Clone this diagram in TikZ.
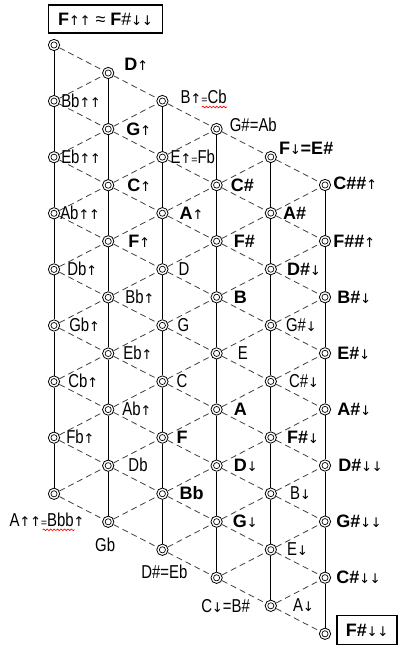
\documentclass[tikz,border=0pt]{standalone}
\usepackage{fontspec}
\setmainfont{Liberation Sans}
\newfontfamily\narrowfont[FakeStretch=0.8]{Liberation Sans}
\newfontfamily\arrowfont{DejaVu Sans}
\usetikzlibrary{calc,decorations.pathmorphing}
\newcommand{\nrw}{\narrowfont\fontsize{14}{16}\selectfont}
\newcommand{\upa}{\hbox to 8pt{\hss\arrowfont\mdseries\fontsize{10}{12}\selectfont ↑\hss}}
\newcommand{\dna}{\hbox to 8pt{\hss\arrowfont\mdseries\fontsize{10}{12}\selectfont ↓\hss}}
\newcommand{\smeq}{{\normalfont\fontsize{8}{10}\selectfont =}}

\begin{document}
\begin{tikzpicture}[x=0.75pt,y=-0.75pt,
    pitch/.style={circle,draw,fill=white,line width=0.6pt,minimum size=8.5pt,inner sep=0pt,
      path picture={\draw[line width=0.5pt] (path picture bounding box.center) circle (2.3pt);
        \fill (path picture bounding box.center) circle (0.6pt);}},
    stem/.style={line width=0.75pt},
    link/.style={line width=0.6pt,black!75,dash pattern=on 4.5pt off 3pt},
    lbl/.style={anchor=base west,inner sep=0pt,font=\fontsize{13.5}{15}\selectfont},
    box/.style={draw,line width=0.8pt,inner sep=0pt,font=\fontsize{13.5}{15}\selectfont},
    squiggle/.style={red,line width=0.5pt,decorate,decoration={snake,amplitude=0.6pt,segment length=2.6pt}}]
    \pgfmathsetmacro{\xzero}{54}
    \pgfmathsetmacro{\colstep}{54.2}
    \pgfmathsetmacro{\yzero}{45}
    \pgfmathsetmacro{\colshift}{28}
    \pgfmathsetmacro{\rowstep}{56.1}
    \useasboundingbox (0,0) rectangle (408,649);
    % lattice points
    \foreach \col in {0,...,5}
      \foreach \row in {0,...,8}
        \node[pitch] (n-\col-\row) at ({\xzero+\colstep*\col},{\yzero+\colshift*\col+\rowstep*\row}) {};
    \foreach \col in {0,...,5}
      \foreach \row in {1,...,8} {
        \pgfmathtruncatemacro{\prow}{\row-1}
        \draw[stem] (n-\col-\prow) -- (n-\col-\row);
      }
    \foreach \col in {0,...,4}
      \foreach \row in {0,...,8} {
        \pgfmathtruncatemacro{\ncol}{\col+1}
        \draw[link] (n-\col-\row) -- (n-\ncol-\row);
        \ifnum\row>0
          \pgfmathtruncatemacro{\prow}{\row-1}
          \draw[link] (n-\col-\row) -- (n-\ncol-\prow);
        \fi
      }
    % note names
    \foreach \col/\row/\dx/\dy/\txt in {
      0/1/7/0/{\nrw Bb\upa\upa}, 0/2/7/0/{\nrw Eb\upa\upa}, 0/3/6/0/{\nrw Ab\upa\upa},
      0/4/13/0/{\nrw Db\upa}, 0/5/15/0/{\nrw Gb\upa}, 0/6/14/0/{\nrw Cb\upa}, 0/7/12/0/{\nrw Fb\upa},
      1/0/16/-8/{\bfseries D\upa}, 1/1/18/0/{\bfseries G\upa}, 1/2/19/0/{\bfseries C\upa},
      1/3/20/0/{\bfseries F\upa}, 1/4/17/0/{\nrw Bb\upa}, 1/5/15/0/{\nrw Eb\upa},
      1/6/14/0/{\nrw Ab\upa}, 1/7/20/0/{\nrw Db},
      2/0/18/-3/{\nrw B\upa\smeq Cb}, 2/1/8/0/{\nrw E\upa\smeq Fb}, 2/2/17/0/{\bfseries A\upa},
      2/3/16/0/{\nrw D}, 2/4/15/0/{\nrw G}, 2/5/14/0/{\nrw C}, 2/6/14/0/{\bfseries F},
      2/7/17/0/{\bfseries Bb},
      3/0/13/-3/{\nrw G\#=Ab}, 3/1/14/0/{\bfseries C\#}, 3/2/17/0/{\bfseries F\#},
      3/3/17/0/{\bfseries B}, 3/4/21/0/{\nrw E}, 3/5/17/0/{\bfseries A},
      3/6/17/0/{\bfseries D\dna}, 3/7/16/0/{\bfseries G\dna},
      4/0/8/-8/{\bfseries F\dna=E\#}, 4/1/12/0/{\bfseries A\#}, 4/2/16/0/{\bfseries D\#\dna},
      4/3/15/0/{\nrw G\#\dna}, 4/4/18/0/{\nrw C\#\dna}, 4/5/16/0/{\bfseries F\#\dna},
      4/6/19/0/{\nrw B\dna}, 4/7/16/0/{\nrw E\dna}, 4/8/22/0/{\nrw A\dna},
      5/0/8/-2/{\bfseries C\#\#\upa}, 5/1/8/0/{\bfseries F\#\#\upa}, 5/2/12/0/{\bfseries B\#\dna},
      5/3/12/0/{\bfseries E\#\dna}, 5/4/12/0/{\bfseries A\#\dna}, 5/5/13/0/{\bfseries D\#\dna\dna},
      5/6/11/0/{\bfseries G\#\dna\dna}, 5/7/11/0/{\bfseries C\#\dna\dna}}
      \node[lbl] (l-\col-\row) at ($(n-\col-\row)+(\dx,6+\dy)$) {\txt};
    \node[lbl,anchor=base] (l-0-8) at ($(n-0-8)+(-7,33)$) {\nrw A\upa\upa\smeq Bbb\upa};
    \node[lbl,anchor=base] (l-1-8) at ($(n-1-8)+(-3,30)$) {\nrw Gb};
    \node[lbl,anchor=base] (l-2-8) at ($(n-2-8)+(2,29)$) {\nrw D\#=Eb};
    \node[lbl,anchor=base] (l-3-8) at ($(n-3-8)+(9,35)$) {\nrw C\dna=B\#};
    \draw[squiggle] ($(l-2-0.base east)+(-25,3)$) -- ($(l-2-0.base east)+(0,3)$);
    \draw[squiggle] ($(l-0-8.base east)+(-42,3)$) -- ($(l-0-8.base east)+(-10,3)$);
    % key boxes
    \node[box,minimum width=86pt,minimum height=21pt] (key) at (105.5,19)
      {{\bfseries F}\upa\upa\ ≈ {\bfseries F}\#\dna\dna};
    \node[box,minimum width=45pt,minimum height=22pt] (fkey) at (367,630) {\bfseries F\#\dna\dna};
\end{tikzpicture}
\end{document}
